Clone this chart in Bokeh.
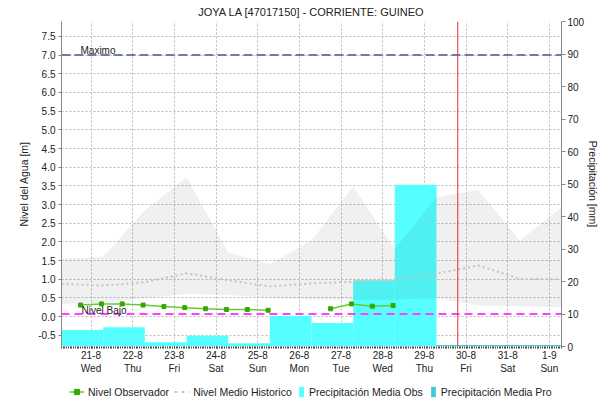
import pandas as pd
from bokeh.plotting import figure
from bokeh.layouts import column
from bokeh.models import (Range1d, LinearAxis, FixedTicker, Span, Label, Legend,
                          LegendItem, NumeralTickFormatter)
from bokeh.embed import file_html
from bokeh.resources import INLINE

TITLE = "JOYA LA [47017150] - CORRIENTE: GUINEO"
Y_LEFT_LABEL = "Nivel del Agua [m]"
Y_RIGHT_LABEL = "Precipitación [mm]"

X_START = "2019-08-20 07:00"
X_END = "2019-09-01 07:00"
LEVEL_RANGE = (-0.8, 7.9)
PRECIP_RANGE = (0, 100)

day_ticks = ["2019-08-21", "2019-08-22", "2019-08-23", "2019-08-24", "2019-08-25",
             "2019-08-26", "2019-08-27", "2019-08-28", "2019-08-29", "2019-08-30",
             "2019-08-31", "2019-09-01"]
day_labels = ["21-8\nWed", "22-8\nThu", "23-8\nFri", "24-8\nSat", "25-8\nSun",
              "26-8\nMon", "27-8\nTue", "28-8\nWed", "29-8\nThu", "30-8\nFri",
              "31-8\nSat", "1-9\nSun"]
level_ticks = [-0.5, 0.0, 0.5, 1.0, 1.5, 2.0, 2.5, 3.0, 3.5, 4.0, 4.5, 5.0, 5.5, 6.0, 6.5, 7.0, 7.5]
precip_ticks = [0, 10, 20, 30, 40, 50, 60, 70, 80, 90, 100]

# 24h precipitation periods ending at 07:00
obs_end = ["2019-08-21 07:00", "2019-08-22 07:00", "2019-08-23 07:00", "2019-08-24 07:00",
           "2019-08-25 07:00", "2019-08-26 07:00", "2019-08-27 07:00", "2019-08-28 07:00",
           "2019-08-29 07:00"]
obs_mm = [5.1, 5.9, 1.3, 3.3, 1.0, 9.5, 7.2, 20.4, 49.8]
pro_end = ["2019-08-30 07:00", "2019-08-31 07:00", "2019-09-01 07:00"]
pro_mm = [0.5, 0.5, 0.5]

hist_time = ["2019-08-20 07:00", "2019-08-21 07:00", "2019-08-22 07:00", "2019-08-23 07:00",
             "2019-08-24 07:00", "2019-08-25 07:00", "2019-08-26 07:00", "2019-08-27 07:00",
             "2019-08-28 07:00", "2019-08-29 07:00", "2019-08-30 07:00", "2019-08-31 07:00",
             "2019-09-01 07:00"]
hist_max = [1.55, 1.60, 2.84, 3.73, 1.72, 1.41, 2.04, 3.48, 1.82, 3.20, 3.39, 2.04, 2.93]
hist_min = [0.34, 0.36, 0.50, 0.60, 0.58, 0.50, 0.45, 0.45, 0.45, 0.50, 0.30, 0.28, 0.25]
hist_mean = [0.88, 0.83, 0.92, 1.16, 0.97, 0.81, 0.89, 0.93, 0.98, 1.15, 1.37, 1.01, 1.00]

obs_time = ["2019-08-20 18:00", "2019-08-21 06:00", "2019-08-21 18:00", "2019-08-22 06:00",
            "2019-08-22 18:00", "2019-08-23 06:00", "2019-08-23 18:00", "2019-08-24 06:00",
            "2019-08-24 18:00", "2019-08-25 06:00", "2019-08-26 06:00",
            "2019-08-26 18:00", "2019-08-27 06:00", "2019-08-27 18:00", "2019-08-28 06:00"]
obs_level = [0.31, 0.34, 0.34, 0.31, 0.27, 0.24, 0.21, 0.19, 0.19, 0.17, float("nan"),
             0.21, 0.34, 0.28, 0.30]

NIVEL_MAX = 7.0
NIVEL_BAJO = 0.07
NOW = "2019-08-29 19:15"

DAY_MS = 86400000.0
HOUR_MS = 3600000.0
NAN = float("nan")


def ms(s):
    return pd.Timestamp(s).value / 1e6


FONT = "Liberation Sans"
TXT = "#222222"

# styles
C_OBS_LINE, C_OBS_PT = "#66CC33", "#33AA00"
C_MEAN = "#C4C4C4"
C_BAR_OBS, C_BAR_PRO = "#55FFFF", "#44CCCC"

x0, x1 = ms(X_START), ms(X_END)
p = figure(frame_width=500, frame_height=325, output_backend="svg", toolbar_location=None,
           x_range=Range1d(x0, x1), y_range=Range1d(*LEVEL_RANGE),
           min_border_left=61, min_border_right=55, min_border_top=21, min_border_bottom=33,
           background_fill_color="white", border_fill_color="white", outline_line_color=None)
p.extra_y_ranges = {"precip": Range1d(*PRECIP_RANGE)}

p.title.text = TITLE
p.title.align = "center"
p.title.text_font = FONT
p.title.text_font_size = "11px"
p.title.text_font_style = "normal"
p.title.text_color = TXT
p.title.standoff = 7

# axes
xa = p.xaxis[0]
xa.ticker = FixedTicker(ticks=[ms(t) for t in day_ticks],
                        minor_ticks=[x0 + h * HOUR_MS for h in range(int((x1 - x0) / HOUR_MS) + 1)])
xa.major_label_overrides = {ms(t): lab for t, lab in zip(day_ticks, day_labels)}
xa.axis_line_color = None
xa.major_tick_out = 2
xa.major_tick_in = 0
xa.minor_tick_out = 2
xa.minor_tick_in = 0
xa.major_tick_line_color = "#444444"
xa.minor_tick_line_color = "#444444"
xa.major_label_standoff = 1
xa.major_label_text_font = FONT
xa.major_label_text_font_size = "10px"
xa.major_label_text_color = TXT

ya = p.yaxis[0]
ya.ticker = FixedTicker(ticks=level_ticks)
ya.formatter = NumeralTickFormatter(format="0.0")
ya.axis_label = Y_LEFT_LABEL
ya.axis_label_text_font = FONT
ya.axis_label_text_font_size = "10.5px"
ya.axis_label_text_font_style = "normal"
ya.axis_label_text_color = TXT
ya.axis_label_standoff = 5
ya.axis_line_color = "#888888"
ya.major_tick_line_color = "#888888"
ya.major_tick_out = 3
ya.major_tick_in = 0
ya.minor_tick_line_color = None
ya.major_label_standoff = 3
ya.major_label_text_font = FONT
ya.major_label_text_font_size = "10px"
ya.major_label_text_color = TXT

ra = LinearAxis(y_range_name="precip", ticker=FixedTicker(ticks=precip_ticks))
ra.axis_label = Y_RIGHT_LABEL
ra.axis_label_text_font = FONT
ra.axis_label_text_font_size = "10.5px"
ra.axis_label_text_font_style = "normal"
ra.axis_label_text_color = TXT
ra.axis_label_standoff = 0
ra.axis_line_color = "#888888"
ra.major_tick_line_color = "#888888"
ra.major_tick_out = 4
ra.major_tick_in = 0
ra.minor_tick_line_color = None
ra.major_label_standoff = 2
ra.major_label_text_font = FONT
ra.major_label_text_font_size = "10px"
ra.major_label_text_color = TXT
p.add_layout(ra, "right")

# grids
for g in (p.xgrid[0], p.ygrid[0]):
    g.grid_line_color = "#BBBBBB"
    g.grid_line_dash = "2 2"
    g.grid_line_width = 1
p.xgrid[0].ticker = xa.ticker
p.ygrid[0].ticker = ya.ticker

# precipitation bars
obs_right = [ms(t) for t in obs_end]
obs_left = [r - DAY_MS for r in obs_right]
p.quad(left=obs_left, right=obs_right, bottom=0, top=obs_mm, y_range_name="precip",
       fill_color=C_BAR_OBS, line_color=None)
pro_right = [ms(t) for t in pro_end]
pro_left = [r - DAY_MS for r in pro_right]
p.quad(left=pro_left, right=pro_right, bottom=0, top=pro_mm, y_range_name="precip",
       fill_color=C_BAR_PRO, line_color=None)

# historic band
hx = [ms(t) for t in hist_time]
p.varea(x=hx, y1=hist_min, y2=hist_max, fill_color="black", fill_alpha=0.06)
p.line(hx, hist_mean, line_color=C_MEAN, line_width=2, line_dash="2 3")

# reference lines
p.add_layout(Span(location=NIVEL_MAX, dimension="width", line_color="#6E7DA8",
                  line_width=2, line_dash="9 4"))
p.add_layout(Span(location=NIVEL_BAJO, dimension="width", line_color="#FF40FF",
                  line_width=2, line_dash="8 5"))
p.add_layout(Label(x=x0, y=NIVEL_MAX, x_offset=19, y_offset=5, text="Maximo",
                   text_font=FONT, text_font_size="10px", text_color=TXT,
                   text_baseline="alphabetic"))
p.add_layout(Label(x=x0, y=NIVEL_BAJO, x_offset=20, y_offset=4, text="Nivel Bajo",
                   text_font=FONT, text_font_size="10px", text_color=TXT,
                   text_baseline="alphabetic"))

# observed level
ox = [ms(t) for t in obs_time]
p.line(ox, obs_level, line_color=C_OBS_LINE, line_width=1.5)
p.scatter(ox, obs_level, marker="square", size=4, fill_color=C_OBS_PT, line_color=C_OBS_PT)

# now line
p.add_layout(Span(location=ms(NOW), dimension="height", line_color="#E03030", line_width=1))

# legend strip (separate small canvas so the legend is not clipped by the plot frame;
# its frame is aligned with the main frame by the column layout)
lf = figure(width=616, height=26, output_backend="svg", toolbar_location=None,
            x_range=Range1d(0, 1), y_range=Range1d(0, 1), min_border=0,
            x_axis_location=None, y_axis_location=None, outline_line_color=None,
            background_fill_color="white", border_fill_color="white")
lf.xgrid.visible = False
lf.ygrid.visible = False
k_line = lf.line(x=[NAN], y=[NAN], line_color=C_OBS_LINE, line_width=1.5)
k_pt = lf.scatter(x=[NAN], y=[NAN], marker="square", size=4, fill_color=C_OBS_PT,
                  line_color=C_OBS_PT)
k_mean = lf.line(x=[NAN], y=[NAN], line_color=C_MEAN, line_width=2, line_dash="3 4")
k_obs = lf.quad(left=[NAN], right=[NAN], bottom=[NAN], top=[NAN], fill_color=C_BAR_OBS,
                line_color=None)
k_pro = lf.quad(left=[NAN], right=[NAN], bottom=[NAN], top=[NAN], fill_color=C_BAR_PRO,
                line_color=None)

common = dict(orientation="horizontal", padding=0, margin=0, border_line_alpha=0,
              background_fill_alpha=0, label_text_font=FONT, label_text_font_size="10.5px",
              label_text_color=TXT, label_height=13, glyph_height=13)
leg1 = Legend(items=[LegendItem(label="Nivel Observador", renderers=[k_line, k_pt]),
                     LegendItem(label="Nivel Medio Historico", renderers=[k_mean])],
              location=(8, 7), glyph_width=15, label_standoff=4, spacing=5, **common)
leg2 = Legend(items=[LegendItem(label="Precipitación Media Obs", renderers=[k_obs]),
                     LegendItem(label="Precipitación Media Pro", renderers=[k_pro])],
              location=(237, 7), glyph_width=6, label_standoff=5, spacing=7, **common)
lf.add_layout(leg1, "center")
lf.add_layout(leg2, "center")

page = column(p, lf, spacing=0)
open("out.html", "w").write(file_html(page, INLINE))
